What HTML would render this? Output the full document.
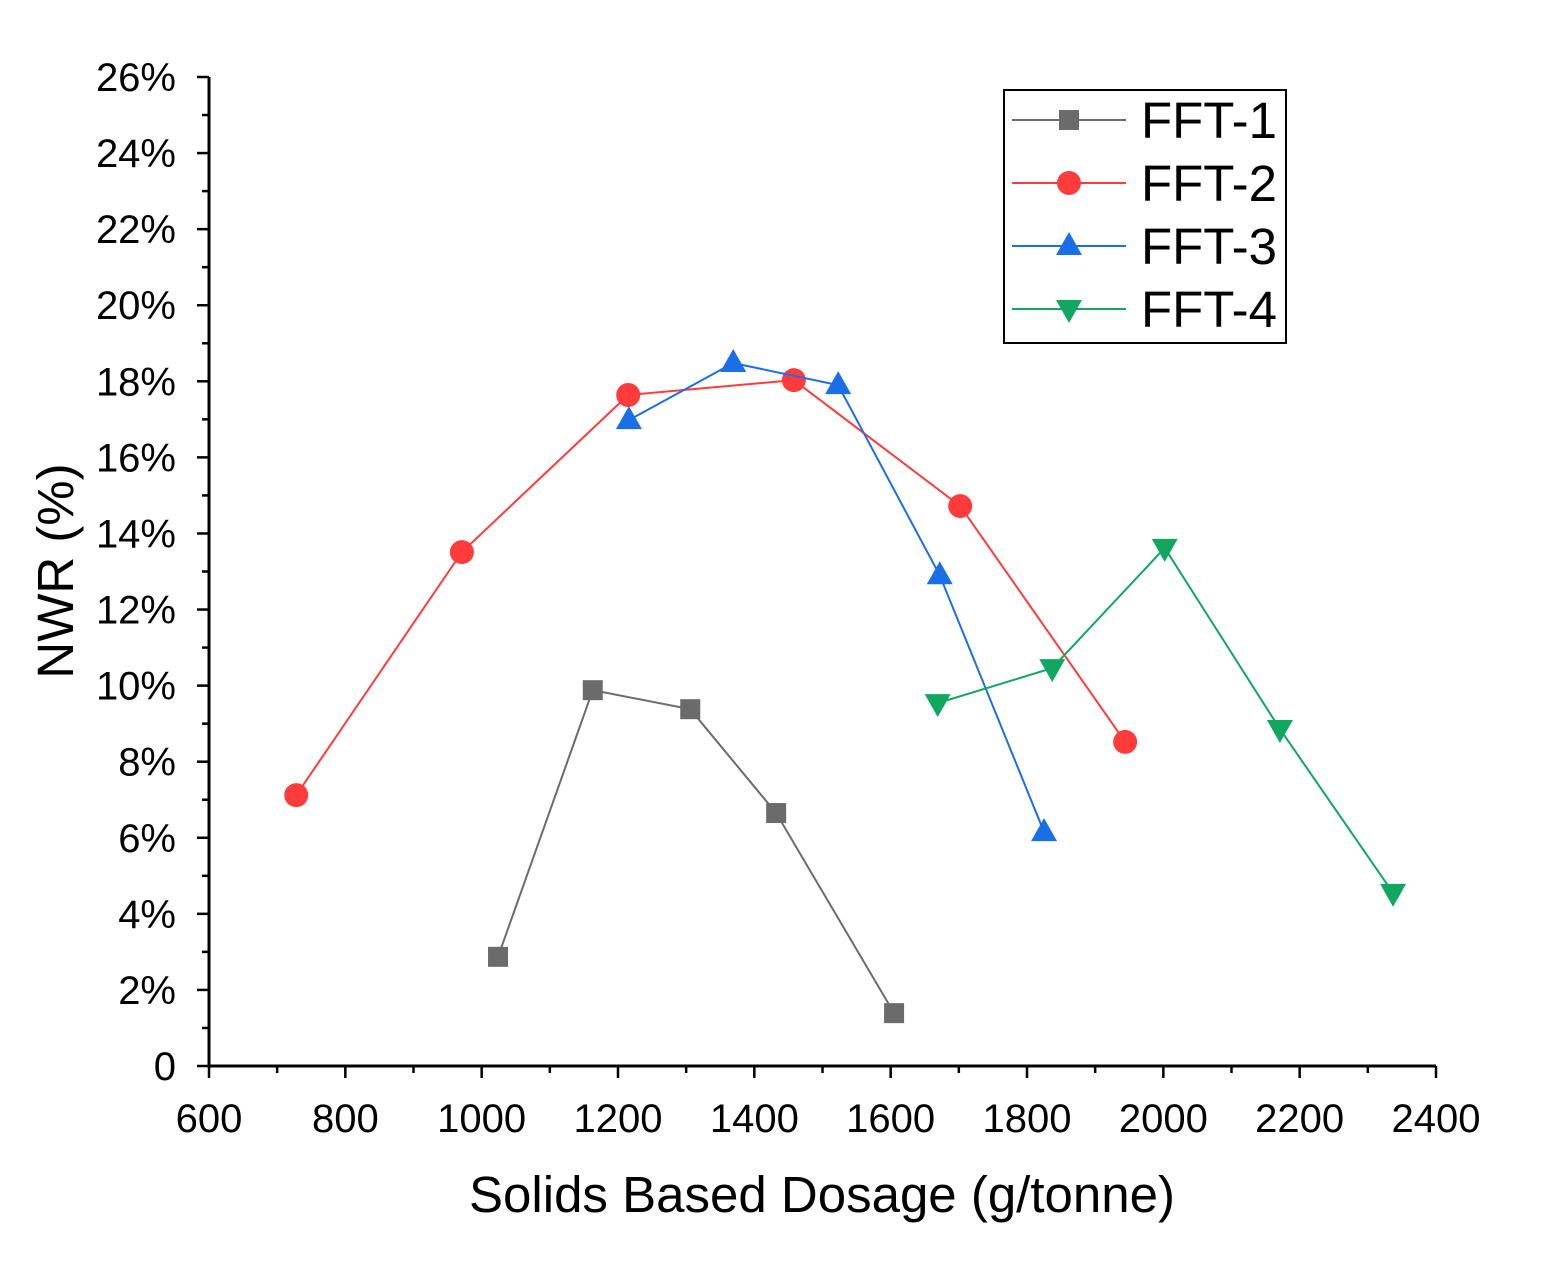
<!DOCTYPE html>
<html><head><meta charset="utf-8"><style>
body{margin:0;background:#fff;}
svg{display:block;font-family:"Liberation Sans",Arial,sans-serif;}
</style></head><body>
<svg id="chart" width="1546" height="1284" viewBox="0 0 1546 1284" xmlns="http://www.w3.org/2000/svg"></svg>
<script>
const xTicks=[600,800,1000,1200,1400,1600,1800,2000,2200,2400];
const yTicks=[0,2,4,6,8,10,12,14,16,18,20,22,24,26];
const seriesNames=["FFT-1","FFT-2","FFT-3","FFT-4"];
const fft1X=[1024,1163,1306,1432,1605];
const fft1Y=[2.87,9.88,9.38,6.65,1.39];
const fft2X=[728,971,1215,1458,1702,1944];
const fft2Y=[7.12,13.51,17.64,18.03,14.72,8.52];
const fft3X=[1216,1369,1523,1672,1825];
const fft3Y=[16.98,18.48,17.9,12.9,6.15];
const fft4X=[1669,1837,2002,2171,2337];
const fft4Y=[9.54,10.46,13.62,8.86,4.55];

const NS="http://www.w3.org/2000/svg";
const svg=document.getElementById('chart');
const X0=209,X1=1436,Y0=1066,Y1=77;
const xs=v=>X0+(v-600)/1800*(X1-X0);
const ys=v=>Y0-v/26*(Y0-Y1);
function mk(tag,attrs,parent){const e=document.createElementNS(NS,tag);for(const k in attrs)e.setAttribute(k,attrs[k]);(parent||svg).appendChild(e);return e;}

let ax=mk('path',{d:`M${X0} ${Y1}V${Y0}H${X1}`,fill:'none',stroke:'#000','stroke-width':3});


for(let v=600;v<=2400;v+=100){const x=xs(v);const major=v%200===0;
 let t=mk('line',{x1:x,x2:x,y1:Y0,y2:Y0+(major?12:7),stroke:'#000','stroke-width':2.5});
 
 }
xTicks.forEach(v=>{let t=mk('text',{x:xs(v),y:1132,'text-anchor':'middle','font-size':40});t.textContent=v;
 
 });
for(let v=0;v<=26;v+=1){const y=ys(v);const major=v%2===0;
 let t=mk('line',{x1:X0,x2:X0-(major?12:7),y1:y,y2:y,stroke:'#000','stroke-width':2.5});
 
 }
yTicks.forEach(v=>{let t=mk('text',{x:176,y:ys(v)+14,'text-anchor':'end','font-size':40});t.textContent=v===0?'0':v+'%';
 
 });
let xt=mk('text',{x:822,y:1212,'text-anchor':'middle','font-size':51});xt.textContent='Solids Based Dosage (g/tonne)';


let yt=mk('text',{x:0,y:0,'text-anchor':'middle','font-size':51,transform:'translate(73,571) rotate(-90)'});yt.textContent='NWR (%)';



const colors=['#6b6b6b','#ff3b3b','#1a6fe6','#10a860'];
const shapes=['square','circle','up','down'];
const data=[[fft1X,fft1Y],[fft2X,fft2Y],[fft3X,fft3Y],[fft4X,fft4Y]];
function marker(g,shape,x,y,c){
 if(shape==='square')return mk('rect',{x:x-10,y:y-10,width:20,height:20,fill:c},g);
 if(shape==='circle')return mk('circle',{cx:x,cy:y,r:12,fill:c},g);
 if(shape==='up')return mk('polygon',{points:`${x},${y-14} ${x+13},${y+9} ${x-13},${y+9}`,fill:c},g);
 return mk('polygon',{points:`${x},${y+14} ${x+13},${y-9} ${x-13},${y-9}`,fill:c},g);
}
data.forEach((d,i)=>{
 const g=mk('g',{});
 
 
 const pts=d[0].map((v,j)=>xs(v)+','+ys(d[1][j])).join(' ');
 mk('polyline',{points:pts,fill:'none',stroke:colors[i],'stroke-width':2},g);
 d[0].forEach((v,j)=>{const m=marker(g,shapes[i],xs(v),ys(d[1][j]),colors[i]);
  
  });
});
const lg=mk('g',{});


mk('rect',{x:1004,y:90,width:282,height:253,fill:'#fff',stroke:'#000','stroke-width':2},lg);
seriesNames.forEach((n,i)=>{const y=120+i*63;
 const e=mk('g',{},lg);
 
 
 mk('line',{x1:1012,x2:1126,y1:y,y2:y,stroke:colors[i],'stroke-width':2},e);
 marker(e,shapes[i],1069,y,colors[i]);
 const t=mk('text',{x:1141,y:y+18,'font-size':51},e);t.textContent=n;});
</script>
</body></html>
